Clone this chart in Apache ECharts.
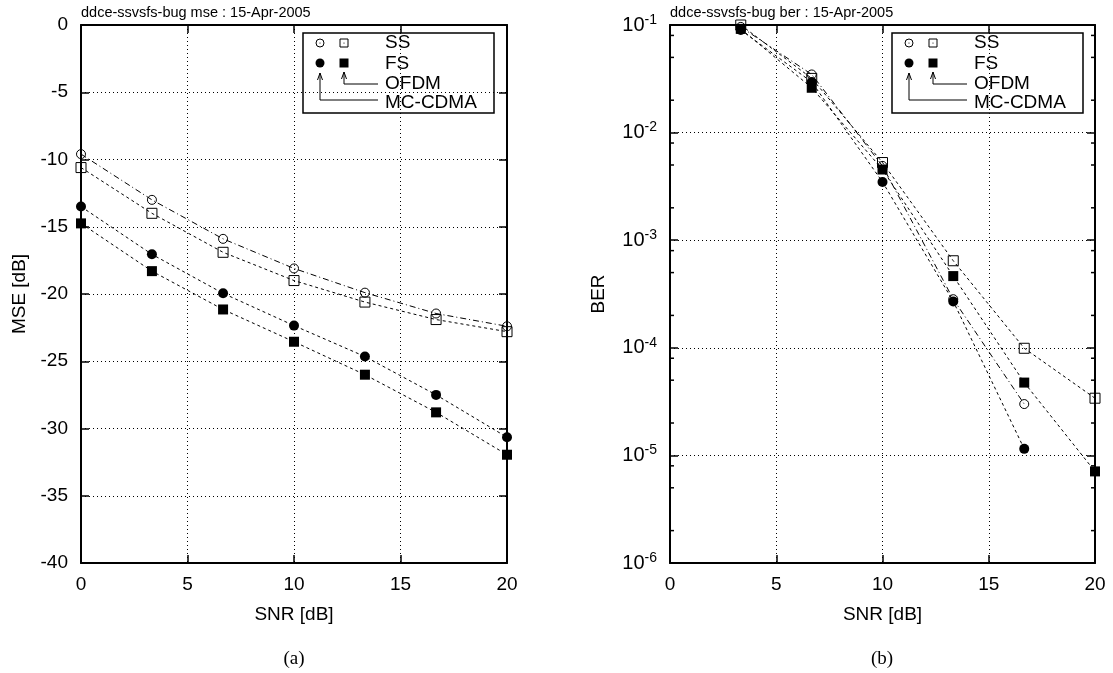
<!DOCTYPE html>
<html>
<head>
<meta charset="utf-8">
<script src="https://cdn.jsdelivr.net/npm/echarts@6/dist/echarts.min.js"></script>
<style>
html,body{margin:0;padding:0;background:#fff;}
#chart{width:1113px;height:673px;}
</style>
</head>
<body>
<div id="chart"></div>
<script>
// ---- data ----
const snrMse = [0, 3.33, 6.67, 10, 13.33, 16.67, 20];
const mseSsMcCdma = [-9.6, -13.0, -15.9, -18.1, -19.9, -21.45, -22.4];
const mseSsOfdm = [-10.6, -14.0, -16.9, -19.0, -20.6, -21.9, -22.8];
const mseFsMcCdma = [-13.5, -17.05, -19.95, -22.35, -24.65, -27.5, -30.65];
const mseFsOfdm = [-14.75, -18.3, -21.15, -23.55, -26.0, -28.8, -31.95];

const snrBer = [3.33, 6.67, 10, 13.33, 16.67, 20];
const berSsMcCdma = [0.096, 0.0347, 0.0049, 2.83e-4, 3.0e-5, null];
const berSsOfdm = [0.100, 0.0319, 0.00527, 6.44e-4, 9.9e-5, 3.4e-5];
const berFsMcCdma = [0.090, 0.0295, 0.00348, 2.7e-4, 1.15e-5, null];
const berFsOfdm = [0.092, 0.0261, 0.00454, 4.64e-4, 4.75e-5, 7.1e-6];

const berMinorTicks = [8e-2, 5e-2, 2e-2, 8e-3, 5e-3, 2e-3, 8e-4, 5e-4, 2e-4, 8e-5, 5e-5, 2e-5, 8e-6, 5e-6, 2e-6];

const titleMse = 'ddce-ssvsfs-bug mse : 15-Apr-2005';
const titleBer = 'ddce-ssvsfs-bug ber : 15-Apr-2005';
const legendLabels = ['SS', 'FS', 'OFDM', 'MC-CDMA'];
const captions = ['(a)', '(b)'];

// ---- styling helpers ----
const FONT = '"Liberation Sans", Arial, Helvetica, sans-serif';
const BLACK = '#000';

function pairs(xs, ys) { return xs.map((x, i) => [x, ys[i]]); }

function bottomX(grid, name) {
  return {
    type: 'value', gridIndex: grid, position: 'bottom', min: 0, max: 20, interval: 5,
    name: name, nameLocation: 'middle', nameGap: 42,
    nameTextStyle: { fontFamily: FONT, fontSize: 19, color: BLACK },
    axisLine: { show: true, onZero: false, lineStyle: { color: BLACK, width: 2 } },
    axisTick: { show: true, inside: true, length: 8, lineStyle: { color: BLACK, width: 1.5 } },
    axisLabel: { show: true, margin: 12, fontFamily: FONT, fontSize: 19, color: BLACK },
    splitLine: { show: true, lineStyle: { color: BLACK, width: 1, type: [1, 3] } }
  };
}
function topX(grid) {
  return {
    type: 'value', gridIndex: grid, position: 'top', min: 0, max: 20, interval: 5,
    axisLine: { show: true, onZero: false, lineStyle: { color: BLACK, width: 2 } },
    axisTick: { show: true, inside: true, length: 8, lineStyle: { color: BLACK, width: 1.5 } },
    axisLabel: { show: false }, splitLine: { show: false }
  };
}

function lineSeries(name, xi, yi, data, symbol, size, dash, open) {
  return {
    name: name, type: 'line', xAxisIndex: xi, yAxisIndex: yi, data: data,
    symbol: symbol, symbolSize: size, showAllSymbol: true, connectNulls: false,
    lineStyle: { color: BLACK, width: 1, type: dash },
    itemStyle: open
      ? { color: 'rgba(0,0,0,0)', borderColor: BLACK, borderWidth: 1 }
      : { color: BLACK, borderColor: BLACK, borderWidth: 0 },
    emphasis: { disabled: true }, animation: false, z: 3
  };
}

const DASHDOT = [6, 3, 1, 3];
const DASH = [3, 3];

// ---- legend graphic builder (pixel layout, not data) ----
function legendGroup(px, py) {
  const t = (txt, y) => ({ type: 'text', x: 82, y: y, style: { text: txt, fontFamily: FONT, fontSize: 19, fill: BLACK, verticalAlign: 'middle', textAlign: 'left' } });
  const ln = (pts) => ({ type: 'polyline', shape: { points: pts }, style: { stroke: BLACK, lineWidth: 1, fill: null } });
  return {
    type: 'group', x: px, y: py, z: 100,
    children: [
      { type: 'rect', shape: { x: 0, y: 0, width: 191, height: 80 }, style: { fill: '#fff', stroke: BLACK, lineWidth: 1.5 } },
      { type: 'circle', shape: { cx: 17, cy: 10, r: 4 }, style: { fill: '#fff', stroke: BLACK, lineWidth: 1 } },
      { type: 'circle', shape: { cx: 17, cy: 10, r: 0.6 }, style: { fill: BLACK } },
      { type: 'rect', shape: { x: 37, y: 6, width: 8, height: 8 }, style: { fill: '#fff', stroke: BLACK, lineWidth: 1 } },
      { type: 'circle', shape: { cx: 41, cy: 10, r: 0.6 }, style: { fill: BLACK } },
      { type: 'circle', shape: { cx: 17, cy: 30, r: 4.5 }, style: { fill: BLACK } },
      { type: 'rect', shape: { x: 36.5, y: 25.5, width: 9, height: 9 }, style: { fill: BLACK } },
      t(legendLabels[0], 10), t(legendLabels[1], 31), t(legendLabels[2], 51), t(legendLabels[3], 70),
      ln([[75, 51], [41, 51], [41, 39]]),
      ln([[38.5, 46], [41, 39], [43.5, 46]]),
      ln([[75, 67], [17, 67], [17, 40]]),
      ln([[14.5, 47], [17, 40], [19.5, 47]])
    ]
  };
}

const chart = echarts.init(document.getElementById('chart'), null, { renderer: 'canvas' });

const option = {
  backgroundColor: '#fff',
  animation: false,
  textStyle: { fontFamily: FONT },
  title: [
    { text: titleMse, left: 81, top: 5, padding: 0, textStyle: { fontFamily: FONT, fontSize: 14.5, fontWeight: 'normal', color: BLACK } },
    { text: titleBer, left: 670, top: 5, padding: 0, textStyle: { fontFamily: FONT, fontSize: 14.5, fontWeight: 'normal', color: BLACK } }
  ],
  grid: [
    { left: 81, top: 25, width: 426, height: 538 },
    { left: 670, top: 25, width: 425, height: 538 }
  ],
  xAxis: [bottomX(0, 'SNR [dB]'), topX(0), bottomX(1, 'SNR [dB]'), topX(1)],
  yAxis: [
    {
      type: 'value', gridIndex: 0, position: 'left', min: -40, max: 0, interval: 5,
      name: 'MSE [dB]', nameLocation: 'middle', nameGap: 52,
      nameTextStyle: { fontFamily: FONT, fontSize: 19, color: BLACK },
      axisLine: { show: true, onZero: false, lineStyle: { color: BLACK, width: 2 } },
      axisTick: { show: true, inside: true, length: 8, lineStyle: { color: BLACK, width: 1.5 } },
      axisLabel: { margin: 13, fontFamily: FONT, fontSize: 19, color: BLACK },
      splitLine: { show: true, lineStyle: { color: BLACK, width: 1, type: [1, 3] } }
    },
    {
      type: 'value', gridIndex: 0, position: 'right', min: -40, max: 0, interval: 5,
      axisLine: { show: true, onZero: false, lineStyle: { color: BLACK, width: 2 } },
      axisTick: { show: true, inside: true, length: 8, lineStyle: { color: BLACK, width: 1.5 } },
      axisLabel: { show: false }, splitLine: { show: false }
    },
    {
      type: 'log', logBase: 10, gridIndex: 1, position: 'left', min: 1e-6, max: 1e-1, interval: 1,
      name: 'BER', nameLocation: 'middle', nameGap: 62,
      nameTextStyle: { fontFamily: FONT, fontSize: 19, color: BLACK },
      axisLine: { show: true, onZero: false, lineStyle: { color: BLACK, width: 2 } },
      axisTick: { show: true, inside: true, length: 8, lineStyle: { color: BLACK, width: 1.5 } },
      axisLabel: {
        margin: 13, color: BLACK,
        formatter: function (v) { return '{b|10}{s|' + Math.round(Math.log10(v)) + '}'; },
        rich: {
          b: { fontFamily: FONT, fontSize: 20, color: BLACK },
          s: { fontFamily: FONT, fontSize: 14, color: BLACK, verticalAlign: 'bottom', padding: [0, 0, 10, 0] }
        }
      },
      splitLine: { show: true, lineStyle: { color: BLACK, width: 1, type: [1, 3] } }
    },
    {
      type: 'log', logBase: 10, gridIndex: 1, position: 'right', min: 1e-6, max: 1e-1, interval: 1,
      axisLine: { show: true, onZero: false, lineStyle: { color: BLACK, width: 2 } },
      axisTick: { show: true, inside: true, length: 8, lineStyle: { color: BLACK, width: 1.5 } },
      axisLabel: { show: false }, splitLine: { show: false }
    }
  ],
  series: [
    lineSeries('SS MC-CDMA', 0, 0, pairs(snrMse, mseSsMcCdma), 'circle', 9, DASHDOT, true),
    lineSeries('SS OFDM', 0, 0, pairs(snrMse, mseSsOfdm), 'rect', 10, DASH, true),
    lineSeries('FS MC-CDMA', 0, 0, pairs(snrMse, mseFsMcCdma), 'circle', 10, DASH, false),
    lineSeries('FS OFDM', 0, 0, pairs(snrMse, mseFsOfdm), 'rect', 10, DASH, false),
    lineSeries('SS MC-CDMA ber', 2, 2, pairs(snrBer, berSsMcCdma), 'circle', 9, DASHDOT, true),
    lineSeries('SS OFDM ber', 2, 2, pairs(snrBer, berSsOfdm), 'rect', 10, DASH, true),
    lineSeries('FS MC-CDMA ber', 2, 2, pairs(snrBer, berFsMcCdma), 'circle', 10, DASH, false),
    lineSeries('FS OFDM ber', 2, 2, pairs(snrBer, berFsOfdm), 'rect', 10, DASH, false),
    {
      name: 'minor ticks', type: 'custom', xAxisIndex: 2, yAxisIndex: 2, clip: false, silent: true,
      data: berMinorTicks.map(v => [0, v]),
      renderItem: function (params, api) {
        const v = api.value(1);
        const pl = api.coord([0, v]);
        const pr = api.coord([20, v]);
        return {
          type: 'group', children: [
            { type: 'line', shape: { x1: pl[0], y1: pl[1], x2: pl[0] + 4, y2: pl[1] }, style: { stroke: BLACK, lineWidth: 1.5 } },
            { type: 'line', shape: { x1: pr[0] - 4, y1: pr[1], x2: pr[0], y2: pr[1] }, style: { stroke: BLACK, lineWidth: 1.5 } }
          ]
        };
      },
      z: 2
    }
  ],
  graphic: [
    legendGroup(303, 33),
    legendGroup(892, 33),
    { type: 'text', x: 294, y: 659, z: 100, style: { text: captions[0], fontFamily: '"Liberation Serif", "Times New Roman", serif', fontSize: 19, fill: BLACK, textAlign: 'center', verticalAlign: 'middle' } },
    { type: 'text', x: 882, y: 659, z: 100, style: { text: captions[1], fontFamily: '"Liberation Serif", "Times New Roman", serif', fontSize: 19, fill: BLACK, textAlign: 'center', verticalAlign: 'middle' } }
  ]
};

chart.setOption(option);
</script>
</body>
</html>
